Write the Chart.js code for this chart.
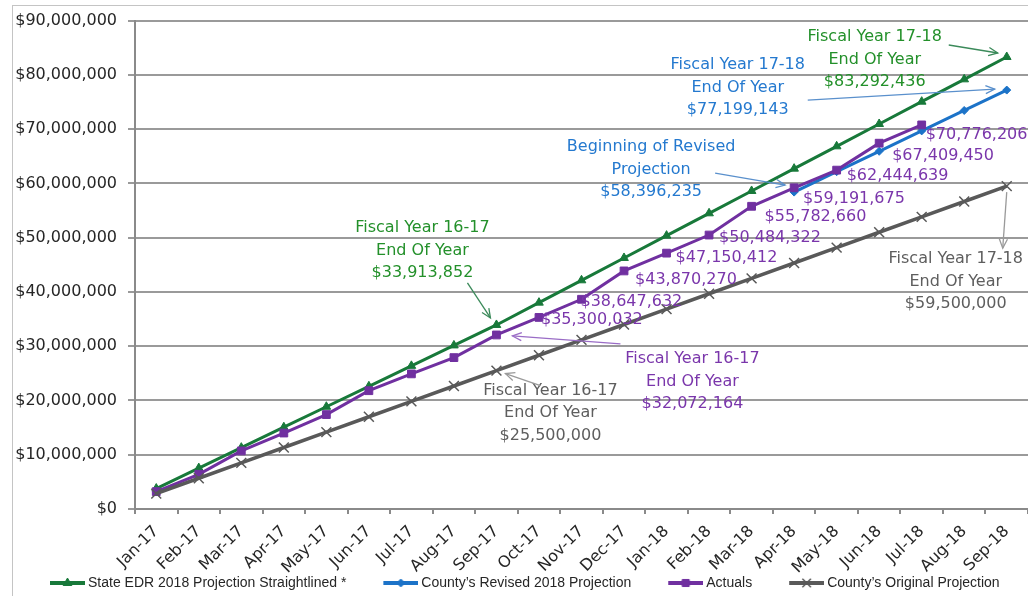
<!DOCTYPE html>
<html><head><meta charset="utf-8">
<script src="https://cdn.jsdelivr.net/npm/chart.js@4.4.1/dist/chart.umd.min.js"></script>
<style>html,body{margin:0;padding:0;background:#fff;overflow:hidden}</style>
</head><body>
<canvas id="c" width="1028" height="596"></canvas>
<script>
// ---------- data ----------
const months = ['Jan-17','Feb-17','Mar-17','Apr-17','May-17','Jun-17','Jul-17','Aug-17','Sep-17','Oct-17','Nov-17','Dec-17','Jan-18','Feb-18','Mar-18','Apr-18','May-18','Jun-18','Jul-18','Aug-18','Sep-18'];
const stateEDR = [3768206, 7536412, 11304617, 15072823, 18841029, 22609235, 26377440, 30145646, 33913852, 38028734, 42143616, 46258498, 50373380, 54488262, 58603144, 62718026, 66832908, 70947790, 75062672, 79177554, 83292436];
const countyRevised = [null, null, null, null, null, null, null, null, null, null, null, null, null, null, null, 58396235, 62156817, 65917398, 69677980, 73438562, 77199143];
const actuals = [3200000, 6400000, 10700000, 14000000, 17400000, 21800000, 24900000, 27900000, 32072164, 35300032, 38647632, 43870270, 47150412, 50484322, 55782660, 59191675, 62444639, 67409450, 70776206, null, null];
const countyOriginal = [2833333, 5666667, 8500000, 11333333, 14166667, 17000000, 19833333, 22666667, 25500000, 28333333, 31166667, 34000000, 36833333, 39666667, 42500000, 45333333, 48166667, 51000000, 53833333, 56666667, 59500000];
const seriesNames = ['State EDR 2018 Projection Straightlined *', "County\u2019s Revised 2018 Projection", 'Actuals', "County\u2019s Original Projection"];
const yTicks = {min: 0, max: 90000000, step: 10000000};
const labelledActualIdx = [9, 10, 11, 12, 13, 14, 15, 16, 17, 18];

// ---------- styles ----------
const C = {
  green: '#18793a', greenText: '#23902a', greenArrow: '#3b8a5a',
  blue: '#1c73c8', blueText: '#2479cf', blueArrow: '#5a90cc',
  purple: '#7030a0', purpleText: '#7a36ab', purpleArrow: '#9a6cc6',
  gray: '#595959', grayText: '#5e5e5e', grayArrow: '#9a9a9a',
  grid: '#9a9a9a', axis: '#8a8a8a', tick: '#262626'
};
const FONT = '"DejaVu Sans", Verdana, sans-serif';
// pixel offsets (dx,dy) of each purple value label from its point
const labelOffsets = [[2,2],[-1,3],[11,9],[9,5],[10,3],[13,11],[9,11],[10,6],[13,13],[4,10]];
// callouts: anchored on a dataset point, text/arrow given as pixel offsets from that point
const callouts = [
  {ds:0, i:20, color:C.greenText, arrow:C.greenArrow, lines:['Fiscal Year 17-18','End Of Year'], tx:-132, ty:-20, from:[-58,-12], to:[-9,-4]},
  {ds:1, i:20, color:C.blueText, arrow:C.blueArrow, lines:['Fiscal Year 17-18','End Of Year'], tx:-269, ty:-25, from:[-199,10], to:[-12,-1]},
  {ds:1, i:15, color:C.blueText, arrow:C.blueArrow, lines:['Beginning of Revised','Projection'], tx:-143, ty:-45, from:[-79,-19], to:[-9,-7]},
  {ds:0, i:8, color:C.greenText, arrow:C.greenArrow, lines:['Fiscal Year 16-17','End Of Year'], tx:-74, ty:-97, from:[-29,-42], to:[-6,-7]},
  {ds:2, i:8, color:C.purpleText, arrow:C.purpleArrow, lines:['Fiscal Year 16-17','End Of Year'], tx:196, ty:24, from:[124,9], to:[16,1]},
  {ds:3, i:8, color:C.grayText, arrow:C.grayArrow, lines:['Fiscal Year 16-17','End Of Year'], tx:54, ty:20, from:[44,15], to:[9,3]},
  {ds:3, i:20, color:C.grayText, arrow:C.grayArrow, lines:['Fiscal Year 17-18','End Of Year'], tx:-51, ty:73, from:[0,6], to:[-4,62]}
];

function money(v){ return '$' + String(Math.round(v)).replace(/\B(?=(\d{3})+(?!\d))/g, ','); }

function legendIcon(color, style, radius, bw){
  const c = document.createElement('canvas');
  c.width = 76; c.height = 16;
  const g = c.getContext('2d');
  g.strokeStyle = color; g.fillStyle = color; g.lineWidth = 4;
  g.beginPath(); g.moveTo(41, 8); g.lineTo(76, 8); g.stroke();
  g.lineWidth = bw;
  Chart.helpers.drawPoint(g, {pointStyle: style, radius: radius, borderWidth: bw, rotation: 0}, 58.5, 8);
  return c;
}

const borderPlugin = {
  id: 'frame',
  beforeDraw(chart){
    const ctx = chart.ctx; ctx.save();
    ctx.fillStyle = '#fff'; ctx.fillRect(0,0,chart.width,chart.height);
    ctx.strokeStyle = '#c4c4c4'; ctx.lineWidth = 1;
    ctx.strokeRect(12.5, 5.5, 1200, 800);
    ctx.restore();
  }
};

function arrow(ctx, x1, y1, x2, y2, color){
  ctx.save();
  ctx.strokeStyle = color; ctx.lineWidth = 1.3;
  ctx.beginPath(); ctx.moveTo(x1,y1); ctx.lineTo(x2,y2); ctx.stroke();
  const a = Math.atan2(y2-y1, x2-x1), L = 10, s = 0.42;
  ctx.beginPath();
  ctx.moveTo(x2 - L*Math.cos(a - s), y2 - L*Math.sin(a - s));
  ctx.lineTo(x2, y2);
  ctx.lineTo(x2 - L*Math.cos(a + s), y2 - L*Math.sin(a + s));
  ctx.stroke();
  ctx.restore();
}

const annotPlugin = {
  id: 'annot',
  afterDatasetsDraw(chart){
    const ctx = chart.ctx, xs = chart.scales.x, ys = chart.scales.y;
    ctx.save();
    ctx.font = '16px ' + FONT;
    ctx.textBaseline = 'middle';
    ctx.textAlign = 'left';
    ctx.fillStyle = C.purpleText;
    labelledActualIdx.forEach((i, k) => {
      const v = actuals[i];
      const px = xs.getPixelForValue(i), py = ys.getPixelForValue(v);
      ctx.fillText(money(v), px + labelOffsets[k][0], py + labelOffsets[k][1]);
    });
    callouts.forEach(c => {
      const v = chart.data.datasets[c.ds].data[c.i];
      const ax = xs.getPixelForValue(c.i), ay = ys.getPixelForValue(v);
      const lines = c.lines.concat([money(v)]);
      ctx.fillStyle = c.color; ctx.textAlign = 'center';
      lines.forEach((t, k) => ctx.fillText(t, ax + c.tx, ay + c.ty + k*22.5));
      arrow(ctx, ax + c.from[0], ay + c.from[1], ax + c.to[0], ay + c.to[1], c.arrow);
    });
    ctx.restore();
  }
};

const icons = [
  legendIcon(C.green, 'triangle', 5, 1),
  legendIcon(C.blue, 'rectRot', 4, 1),
  legendIcon(C.purple, 'rect', 5, 1),
  legendIcon(C.gray, 'crossRot', 6, 1.5)
];

new Chart(document.getElementById('c'), {
  type: 'line',
  data: {
    labels: months,
    datasets: [
      {label: seriesNames[0], data: stateEDR, borderColor: C.green, backgroundColor: C.green, borderWidth: 3, pointStyle: 'triangle', pointRadius: 5, pointBorderWidth: 1, order: 4},
      {label: seriesNames[1], data: countyRevised, borderColor: C.blue, backgroundColor: C.blue, borderWidth: 3, pointStyle: 'rectRot', pointRadius: 4, pointBorderWidth: 1, order: 3},
      {label: seriesNames[2], data: actuals, borderColor: C.purple, backgroundColor: C.purple, borderWidth: 3, pointStyle: 'rect', pointRadius: 5.5, pointBorderWidth: 1, order: 2},
      {label: seriesNames[3], data: countyOriginal, borderColor: C.gray, backgroundColor: C.gray, borderWidth: 3.5, pointStyle: 'crossRot', pointRadius: 7, pointBorderWidth: 1.5, order: 1}
    ]
  },
  options: {
    responsive: false, animation: false, devicePixelRatio: 1,
    layout: {autoPadding: false, padding: {left: 13, top: 17, right: 0, bottom: -4}},
    elements: {line: {tension: 0}},
    plugins: {
      tooltip: {enabled: false},
      legend: {
        position: 'bottom', align: 'start',
        labels: {
          usePointStyle: true, pointStyleWidth: 68, padding: 0,
          font: {family: '"Liberation Sans", Arial, sans-serif', size: 14},
          color: '#262626',
          sort: (a, b) => a.datasetIndex - b.datasetIndex,
          generateLabels(chart){
            const items = Chart.defaults.plugins.legend.labels.generateLabels(chart);
            items.forEach(it => { it.pointStyle = icons[it.datasetIndex]; });
            return items;
          }
        }
      }
    },
    scales: {
      x: {
        offset: true,
        grid: {offset: true, drawOnChartArea: false, drawTicks: true, tickLength: 5, color: C.axis, lineWidth: 2},
        border: {display: true, color: C.axis, width: 2},
        ticks: {autoSkip: false, minRotation: 45, maxRotation: 45, padding: 8, color: C.tick, font: {family: FONT, size: 16}},
        afterFit(s){ s.height = 67; s.paddingRight = 0; s.paddingLeft = 0; }
      },
      y: {
        min: yTicks.min, max: yTicks.max,
        grid: {color: C.grid, lineWidth: 2, tickLength: 7},
        border: {display: true, color: C.axis, width: 2},
        ticks: {stepSize: yTicks.step, padding: 11, color: C.tick, font: {family: FONT, size: 16}, callback: v => money(v)},
        afterFit(s){ s.width = 122; }
      }
    }
  },
  plugins: [borderPlugin, annotPlugin]
});
</script>
</body></html>
